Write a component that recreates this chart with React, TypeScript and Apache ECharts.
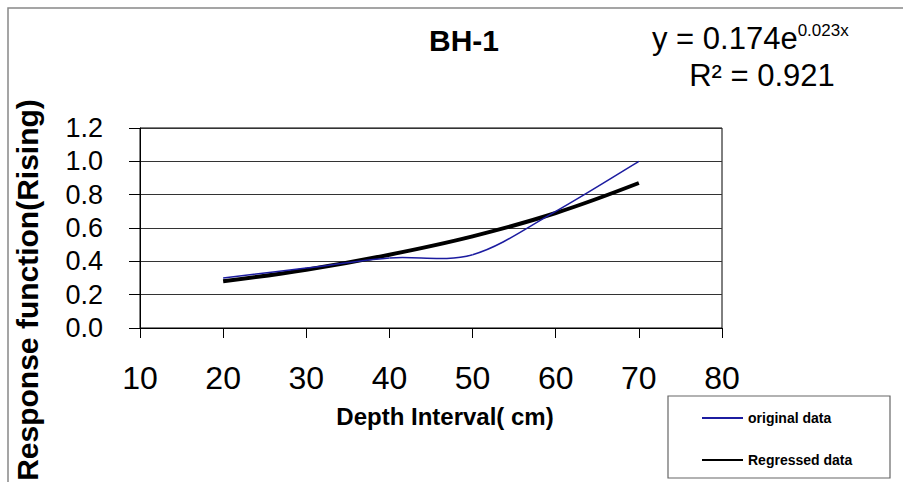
import React, { useEffect, useRef } from "react";
import * as echarts from "echarts";

const depth = [20, 30, 40, 50, 60, 70];
const originalData = [0.3, 0.36, 0.42, 0.44, 0.7, 1.0];
const regressedData = [0.28, 0.35, 0.44, 0.55, 0.69, 0.87];
const xTicks = [10, 20, 30, 40, 50, 60, 70, 80];
const yTicks = [0, 0.2, 0.4, 0.6, 0.8, 1.0, 1.2];

const FONT = "'Liberation Sans', Arial, sans-serif";
const BLUE = "#1c1ca0";

export default function App() {
  const ref = useRef<HTMLDivElement>(null);
  useEffect(() => {
    if (!ref.current) return;
    const chart = echarts.init(ref.current, undefined, { renderer: "svg" });
    const n = depth.length;
    const clampIdx = (k: number) => Math.max(0, Math.min(n - 1, k));
    chart.setOption({
      animation: false,
      backgroundColor: "#fff",
      textStyle: { fontFamily: FONT },
      grid: {
        left: 140,
        top: 128,
        right: 903 - 722,
        bottom: 482 - 328,
        show: true,
        borderColor: "#000",
        borderWidth: 1,
      },
      xAxis: {
        type: "value",
        min: xTicks[0],
        max: xTicks[xTicks.length - 1],
        interval: 10,
        axisLine: { lineStyle: { color: "#000", width: 1 } },
        axisTick: { show: true, length: 10, lineStyle: { color: "#000" } },
        axisLabel: { fontSize: 32, color: "#000", margin: 34, fontFamily: FONT },
        splitLine: { show: false },
      },
      yAxis: {
        type: "value",
        min: yTicks[0],
        max: yTicks[yTicks.length - 1],
        interval: 0.2,
        axisLine: { show: true, lineStyle: { color: "#000", width: 1 } },
        axisTick: { show: true, length: 11, lineStyle: { color: "#000" } },
        axisLabel: {
          fontSize: 27,
          color: "#000",
          margin: 37,
          fontFamily: FONT,
          formatter: (v: number) => v.toFixed(1),
        },
        splitLine: { show: true, lineStyle: { color: "#333", width: 1 } },
      },
      legend: {
        orient: "vertical",
        left: 697,
        top: 406,
        itemGap: 28,
        itemWidth: 41,
        itemHeight: 2,
        icon: "rect",
        textStyle: { fontSize: 14, fontWeight: "bold", color: "#000", fontFamily: FONT },
        data: ["original data", "Regressed data"],
      },
      graphic: [
        {
          type: "rect",
          silent: true,
          shape: { x: 8, y: 8, width: 1000, height: 1000 },
          style: { fill: "none", stroke: "#888", lineWidth: 1.5 },
        },
        {
          type: "rect",
          silent: true,
          shape: { x: 668, y: 396, width: 222, height: 82 },
          style: { fill: "#fff", stroke: "#666", lineWidth: 1.2 },
          z: -1,
        },
        {
          type: "text",
          silent: true,
          x: 464,
          y: 40,
          style: {
            text: "BH-1",
            fontSize: 30,
            fontWeight: "bold",
            fill: "#000",
            fontFamily: FONT,
            align: "center",
            verticalAlign: "middle",
          },
        },
        {
          type: "text",
          silent: true,
          x: 652,
          y: 38,
          style: {
            text: "{m|y = 0.174e}{s|0.023x}",
            fontFamily: FONT,
            align: "left",
            verticalAlign: "middle",
            rich: {
              m: { fontSize: 31, fill: "#000", fontFamily: FONT },
              s: { fontSize: 17, fill: "#000", fontFamily: FONT, padding: [0, 0, 16, 0] },
            },
          },
        },
        {
          type: "text",
          silent: true,
          x: 762,
          y: 75,
          style: {
            text: "R² = 0.921",
            fontSize: 31,
            fill: "#000",
            fontFamily: FONT,
            align: "center",
            verticalAlign: "middle",
          },
        },
        {
          type: "text",
          silent: true,
          x: 445,
          y: 416,
          style: {
            text: "Depth Interval( cm)",
            fontSize: 24,
            fontWeight: "bold",
            fill: "#000",
            fontFamily: FONT,
            align: "center",
            verticalAlign: "middle",
          },
        },
        {
          type: "text",
          silent: true,
          x: 27,
          y: 290,
          rotation: Math.PI / 2,
          style: {
            text: "Response function(Rising)",
            fontSize: 30,
            fontWeight: "bold",
            fill: "#000",
            fontFamily: FONT,
            align: "center",
            verticalAlign: "middle",
          },
        },
      ],
      series: [
        {
          name: "original data",
          type: "custom",
          data: depth.map((d, i) => [d, originalData[i]]),
          encode: { x: 0, y: 1 },
          itemStyle: { color: BLUE },
          z: 3,
          renderItem: (params: any, api: any) => {
            const i = params.dataIndex;
            if (i >= n - 1) return null;
            const P = (k: number) => {
              const j = clampIdx(k);
              return api.coord([depth[j], originalData[j]]);
            };
            const p0 = P(i - 1);
            const p1 = P(i);
            const p2 = P(i + 1);
            const p3 = P(i + 2);
            const t = 1 / 6;
            return {
              type: "bezierCurve",
              shape: {
                x1: p1[0],
                y1: p1[1],
                x2: p2[0],
                y2: p2[1],
                cpx1: p1[0] + (p2[0] - p0[0]) * t,
                cpy1: p1[1] + (p2[1] - p0[1]) * t,
                cpx2: p2[0] - (p3[0] - p1[0]) * t,
                cpy2: p2[1] - (p3[1] - p1[1]) * t,
              },
              style: { stroke: BLUE, fill: "none", lineWidth: 1.5 },
            };
          },
        },
        {
          name: "Regressed data",
          type: "line",
          data: depth.map((d, i) => [d, regressedData[i]]),
          smooth: 0.4,
          showSymbol: false,
          symbol: "none",
          lineStyle: { color: "#000", width: 4 },
          itemStyle: { color: "#000" },
          z: 2,
        },
      ],
    });
    return () => chart.dispose();
  }, []);
  return (
    <div
      ref={ref}
      style={{ position: "absolute", left: 0, top: 0, width: 903, height: 482 }}
    />
  );
}
